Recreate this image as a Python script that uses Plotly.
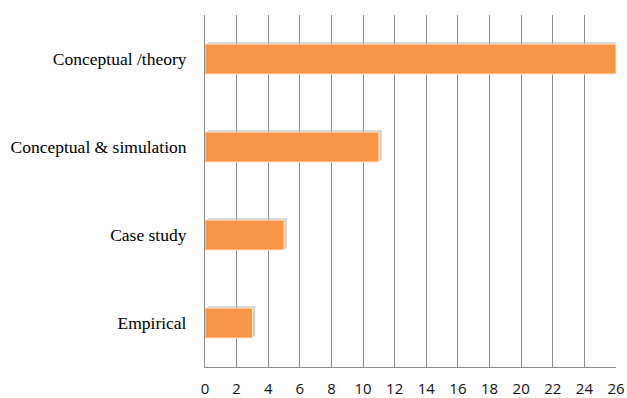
import plotly.graph_objects as go

# Number of studies by research method
categories = ["Empirical", "Case study", "Conceptual & simulation", "Conceptual /theory"]
counts = [3, 5, 11, 26]
x_ticks = list(range(0, 27, 2))

fig = go.Figure()

# soft drop shadow behind each bar
fig.add_trace(go.Bar(
    y=categories, x=counts, orientation="h",
    base=0.18, width=0.34, offset=-0.15,
    marker=dict(color="rgba(120,120,120,0.35)", line=dict(width=0)),
    hoverinfo="skip", showlegend=False,
))
# main bars
fig.add_trace(go.Bar(
    y=categories, x=counts, orientation="h",
    width=0.34, offset=-0.17,
    marker=dict(color="#F79646", line=dict(color="#FDE3CF", width=1)),
    showlegend=False,
))

fig.update_layout(
    width=627, height=398,
    margin=dict(l=205, r=11, t=15, b=31),
    paper_bgcolor="white", plot_bgcolor="white",
    barmode="overlay",
    xaxis=dict(
        range=[0, 26], tickvals=x_ticks, ticktext=[str(v) for v in x_ticks],
        showgrid=True, gridcolor="#8C8C8C", gridwidth=1,
        zeroline=False, showline=True, linecolor="#8C8C8C", linewidth=1,
        ticks="", ticklabelstandoff=8, automargin=False,
        tickfont=dict(family="Open Sans, Liberation Sans, sans-serif", size=15, color="#111"),
    ),
    yaxis=dict(
        range=[-0.5, 3.5], showgrid=False, zeroline=False,
        showline=True, linecolor="#8C8C8C", linewidth=1,
        ticks="", ticklabelstandoff=14, automargin=False,
        tickfont=dict(family="Liberation Serif, Times New Roman, serif", size=17.5, color="#000"),
    ),
)

fig.write_html("out.html")
